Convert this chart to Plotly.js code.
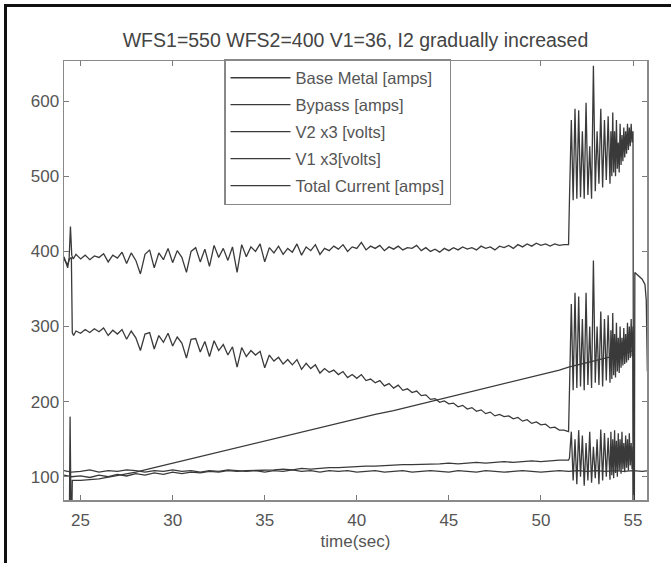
<!DOCTYPE html>
<html>
<head>
<meta charset="utf-8">
<script src="https://cdn.plot.ly/plotly-3.0.1.min.js"></script>
<style>
html,body{margin:0;padding:0;background:#fff;}
#chart{width:671px;height:563px;}
</style>
</head>
<body>
<div id="chart"></div>
<script>
// ---------- DATA ----------
const seriesNames = ["Base Metal [amps]", "Bypass [amps]", "V2 x3 [volts]", "V1 x3[volts]", "Total Current [amps]"];
const xTicks = [25, 30, 35, 40, 45, 50, 55];
const yTicks = [100, 200, 300, 400, 500, 600];

// main sampling times (24.75 .. 51.5, every 0.25 s)
const tMain = [24.75,25,25.25,25.5,25.75,26,26.25,26.5,26.75,27,27.25,27.5,27.75,28,28.25,28.5,28.75,29,29.25,29.5,29.75,30,30.25,30.5,30.75,31,31.25,31.5,31.75,32,32.25,32.5,32.75,33,33.25,33.5,33.75,34,34.25,34.5,34.75,35,35.25,35.5,35.75,36,36.25,36.5,36.75,37,37.25,37.5,37.75,38,38.25,38.5,38.75,39,39.25,39.5,39.75,40,40.25,40.5,40.75,41,41.25,41.5,41.75,42,42.25,42.5,42.75,43,43.25,43.5,43.75,44,44.25,44.5,44.75,45,45.25,45.5,45.75,46,46.25,46.5,46.75,47,47.25,47.5,47.75,48,48.25,48.5,48.75,49,49.25,49.5,49.75,50,50.25,50.5,50.75,51,51.25,51.5];

// oscillating phase times
const tOsc = [51.55,51.65,51.75,51.85,51.95,52.05,52.15,52.25,52.35,52.45,52.55,52.65,52.75,52.85,52.95,53.05,53.15,53.25,53.35,53.45,53.55,53.65,53.75,53.8,53.85,53.9,53.95,54,54.05,54.1,54.15,54.2,54.25,54.3,54.35,54.4,54.45,54.5,54.55,54.6,54.65,54.7,54.75,54.8,54.85,54.9,54.95,55];

// Total current
const totalStartT = [24.1,24.2,24.3,24.38,24.45,24.52,24.6];
const totalStartV = [393,385,378,392,433,395,390];
const totalMainV = [396,390,395,389,394,392,397,386,395,391,399,384,398,388,370,396,402,378,398,389,404,385,401,392,372,400,405,386,403,380,408,392,404,388,406,372,409,393,406,400,410,386,405,398,407,396,404,399,410,395,406,401,409,396,404,401,407,403,409,400,406,404,412,402,407,404,408,401,406,403,407,402,405,404,408,401,405,400,403,399,404,401,405,402,406,403,405,402,407,404,406,402,407,405,408,404,409,406,410,407,411,408,410,407,410,408,409,409];
const totalOscV = [470,575,468,590,470,588,472,560,470,598,475,540,470,647,480,560,490,590,485,575,495,580,490,560,500,585,505,560,500,575,510,545,505,570,515,555,520,565,525,560,530,570,535,565,540,570,545,560];
const totalEndT = [55.03,55.07,55.1,55.3,55.5,55.65,55.72,55.78];
const totalEndV = [0,0,372,368,363,356,335,240];

// Base metal
const baseStartT = [24.1,24.2,24.3,24.4,24.5,24.55,24.62];
const baseStartV = [390,386,382,390,392,292,288];
const baseMainV = [294,291,296,292,297,293,298,288,295,290,296,283,294,285,268,290,292,270,288,279,291,274,286,278,258,283,284,266,280,260,281,268,276,262,273,246,272,260,268,262,267,245,262,254,259,250,256,249,256,243,251,244,249,238,244,239,242,236,240,232,236,231,236,228,230,225,228,221,224,218,222,215,217,212,214,208,209,203,204,199,201,197,198,193,195,190,192,187,189,184,186,181,183,180,181,177,179,174,176,171,173,169,170,165,166,162,162,160];
const baseOscV = [215,330,215,345,218,340,220,310,215,345,222,300,218,388,225,300,222,320,220,310,228,315,225,295,230,318,235,290,232,305,240,285,238,300,245,285,248,298,250,290,252,305,255,300,258,310,260,300];
const baseEndT = [55.03];
const baseEndV = [0];

// Bypass (I2, gradually increased)
const bypassT = [24.1,24.38,24.43,24.5,24.55,25,26,27,28,29,30,31,32,33,34,35,36,37,38,39,40,41,42,43,44,45,46,47,48,49,50,51,51.5,52,52.5,53,53.5,54,54.5,55,55.03];
const bypassV = [0,0,180,0,95,95,97,101,106,112,118,124,130,136,141,147,153,159,165,171,177,183,188,194,200,206,212,218,224,230,236,242,246,249,252,255,258,261,264,268,0];

// V2 x3
const v2T = [24.1,24.5,25,25.5,26,26.5,27,27.5,28,28.5,29,29.5,30,30.5,31,31.5,32,32.5,33,33.5,34,34.5,35,35.5,36,36.5,37,37.5,38,38.5,39,39.5,40,40.5,41,41.5,42,42.5,43,43.5,44,44.5,45,45.5,46,46.5,47,47.5,48,48.5,49,49.5,50,50.5,51,51.5];
const v2V = [102,100,101,99,102,100,103,101,104,102,105,103,106,104,106,105,107,106,108,107,108,108,109,109,110,109,111,110,111,112,112,113,113,114,114,115,115,116,116,116,117,117,118,117,118,119,118,119,120,119,120,121,120,121,122,122];
const v2OscV = [125,160,95,150,90,162,100,155,88,145,95,160,92,140,98,150,90,163,95,158,100,152,96,160,102,150,98,162,105,148,100,158,108,150,104,160,110,145,106,155,112,150,108,158,115,145,110,140];
const v2EndT = [55.03];
const v2EndV = [0];

// V1 x3
const v1T = [24.1,24.5,25,25.5,26,26.5,27,27.5,28,28.5,29,29.5,30,30.5,31,31.5,32,32.5,33,33.5,34,34.5,35,35.5,36,36.5,37,37.5,38,38.5,39,39.5,40,40.5,41,41.5,42,42.5,43,43.5,44,44.5,45,45.5,46,46.5,47,47.5,48,48.5,49,49.5,50,50.5,51,51.5,52,52.5,53,53.5,54,54.5,55,55.5,55.8];
const v1V = [108,106,107,109,106,108,107,109,108,106,108,107,109,107,108,106,108,107,109,108,107,108,106,108,107,109,107,108,106,108,107,108,106,107,108,106,107,108,106,107,108,107,106,108,107,106,108,107,106,107,108,107,106,107,108,107,108,107,108,107,108,107,108,107,108];

// ---------- BUILD ----------
const lineColor = "#3a3a3a";
const mk = (name, x, y) => ({
  type: "scatter", mode: "lines", name: name, x: x, y: y,
  line: {color: lineColor, width: 1.3}, legendgroup: name
});

const traces = [
  mk(seriesNames[0], baseStartT.concat(tMain, tOsc, baseEndT), baseStartV.concat(baseMainV, baseOscV, baseEndV)),
  mk(seriesNames[1], bypassT, bypassV),
  mk(seriesNames[2], v2T.concat(tOsc, v2EndT), v2V.concat(v2OscV, v2EndV)),
  mk(seriesNames[3], v1T, v1V),
  mk(seriesNames[4], totalStartT.concat(tMain, tOsc, totalEndT), totalStartV.concat(totalMainV, totalOscV, totalEndV))
];

const W = 671, H = 563;
const PL = 64, PR = 647, PT = 61, PB = 500;
const px2x = p => (p - PL) / (PR - PL);
const px2y = p => (PB - p) / (PB - PT);

const axisCommon = {
  showgrid: false, zeroline: false,
  showline: true, linecolor: "#8a8a8a", linewidth: 1.5, mirror: "ticks",
  ticks: "inside", ticklen: 5, tickwidth: 1, tickcolor: "#7a7a7a",
  tickfont: {family: "Liberation Sans, Arial, sans-serif", size: 17, color: "#555"}
};

const layout = {
  width: W, height: H,
  paper_bgcolor: "#fff", plot_bgcolor: "#fff",
  margin: {l: PL, r: W - PR, t: PT, b: H - PB, pad: 0},
  font: {family: "Liberation Sans, Arial, sans-serif", color: "#555"},
  title: {
    text: "WFS1=550 WFS2=400 V1=36, I2 gradually increased",
    font: {size: 19.5, color: "#444"},
    x: 0.5, xref: "paper", xanchor: "center",
    y: 1 - 40 / H, yanchor: "middle"
  },
  xaxis: Object.assign({}, axisCommon, {
    range: [24.1, 55.76], tickvals: xTicks, ticktext: xTicks.map(String),
    ticklabelstandoff: 4,
    title: {text: "time(sec)", font: {size: 17, color: "#555"}, standoff: 6}
  }),
  yaxis: Object.assign({}, axisCommon, {
    range: [69, 653.5], tickvals: yTicks, ticktext: yTicks.map(String)
  }),
  showlegend: true,
  legend: {
    x: px2x(224), y: px2y(59), xanchor: "left", yanchor: "top",
    bgcolor: "#fff", bordercolor: "#888", borderwidth: 1.5,
    font: {size: 16.5, color: "#555"},
    tracegroupgap: 2.5, itemwidth: 60
  },
  shapes: [{
    type: "rect", xref: "paper", yref: "paper",
    x0: px2x(5.5), y0: px2y(5.5), x1: px2x(800), y1: px2y(700),
    line: {color: "#111", width: 3}, fillcolor: "rgba(0,0,0,0)", layer: "above"
  }]
};

Plotly.newPlot("chart", traces, layout, {displayModeBar: false, staticPlot: true});
</script>
</body>
</html>
